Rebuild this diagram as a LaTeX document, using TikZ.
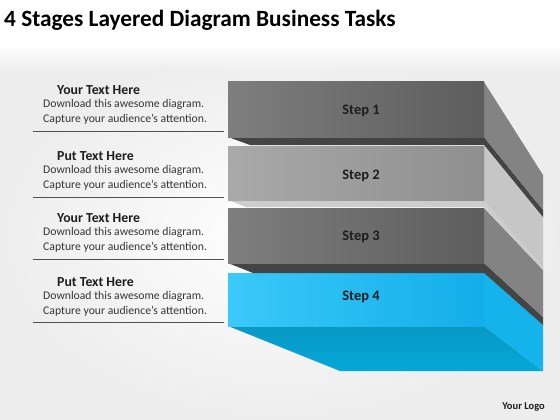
\documentclass[tikz,border=0pt]{standalone}
\usepackage{fontspec}
\setmainfont{Carlito}
\usetikzlibrary{fadings}
\definecolor{txt}{HTML}{1E1E1E}
\definecolor{rulec}{HTML}{505050}
\definecolor{gA}{HTML}{7E7E7E}
\definecolor{gB}{HTML}{5D5D5D}
\definecolor{gSide}{HTML}{838383}
\definecolor{gBand}{HTML}{444444}
\definecolor{lA}{HTML}{A9A9A9}
\definecolor{lB}{HTML}{8F8F8F}
\definecolor{lSide}{HTML}{C6C6C6}
\definecolor{lBand}{HTML}{CDCDCD}
\definecolor{bA}{HTML}{3BC9F8}
\definecolor{bB}{HTML}{12AEEA}
\definecolor{bSide}{HTML}{14B3EC}
\definecolor{bBotA}{HTML}{0898C4}
\definecolor{bBotB}{HTML}{04A8D8}
\tikzset{
  head/.style={anchor=west,font=\fontsize{13.8}{15}\selectfont\bfseries,text=txt,inner sep=0pt},
  body/.style={anchor=west,font=\fontsize{11.7}{13}\selectfont,text=txt!90,inner sep=0pt},
  steplabel/.style={font=\fontsize{14.5}{16}\selectfont\bfseries,text=txt,inner sep=0pt},
  sep/.style={draw=rulec,line width=0.9pt},
}
\begin{document}
\begin{tikzpicture}[x=1pt,y=-1pt]
\useasboundingbox (0,0) rectangle (560,420);
% background
\fill[white] (0,0) rectangle (560,420);
\shade[inner color=white,outer color=black!7] (0,50) rectangle (560,420);
\fill[white,path fading=south] (0,45) rectangle (560,72);
% title
\node[anchor=west,font=\fontsize{23.3}{26}\selectfont\bfseries,text=black,inner sep=0pt] (title) at (4,20) {4 Stages Layered Diagram Business Tasks};

% ---- step 4 (blue)
\shade[top color=bBotA,bottom color=bBotB] (228,326) -- (484,326) -- (543,371) -- (340,371) -- cycle;
\fill[bSide] (484,273) -- (543,325) -- (543,371) -- (484,326) -- cycle;
\shade[left color=bA,right color=bB] (228,273) rectangle (484,326);
% ---- step 3
\fill[gBand] (228,263) -- (484,263) -- (484,273) -- (253,273) -- cycle;
\fill[gBand] (484,263) -- (543,317) -- (543,325) -- (484,273) -- cycle;
\fill[gSide] (484,208) -- (543,270) -- (543,317) -- (484,263) -- cycle;
\shade[left color=gA,right color=gB] (228,208) rectangle (484,263);
% ---- step 2
\fill[lBand] (228,200) -- (484,200) -- (484,207) -- (246,207) -- cycle;
\fill[lBand] (484,200) -- (543,267) -- (543,270) -- (484,207) -- cycle;
\fill[lSide] (484,146) -- (543,217) -- (543,267) -- (484,200) -- cycle;
\shade[left color=lA,right color=lB] (228,146) rectangle (484,200);
% ---- step 1
\fill[gBand] (228,137) -- (484,137) -- (484,145) -- (250,145) -- cycle;
\fill[gBand] (484,137) -- (543,210) -- (543,217) -- (484,145) -- cycle;
\fill[gSide] (484,82) -- (543,175) -- (543,210) -- (484,137) -- cycle;
\shade[left color=gA,right color=gB] (228,82) rectangle (484,137);

% step labels
\node[steplabel] (s1) at (361,111) {Step 1};
\node[steplabel] (s2) at (361,176) {Step 2};
\node[steplabel] (s3) at (361,237) {Step 3};
\node[steplabel] (s4) at (361,297) {Step 4};

% left texts
\node[head] (h1) at (57,90) {Your Text Here};
\node[body] (a1) at (43,104) {Download this awesome diagram.};
\node[body] (b1) at (43,119) {Capture your audience’s attention.};
\draw[sep] (33,131) -- (224,131);

\node[head] (h2) at (57,156) {Put Text Here};
\node[body] (a2) at (43,170) {Download this awesome diagram.};
\node[body] (b2) at (43,185) {Capture your audience’s attention.};
\draw[sep] (33,197) -- (224,197);

\node[head] (h3) at (57,218) {Your Text Here};
\node[body] (a3) at (43,232) {Download this awesome diagram.};
\node[body] (b3) at (43,247) {Capture your audience’s attention.};
\draw[sep] (33,259) -- (224,259);

\node[head] (h4) at (57,282) {Put Text Here};
\node[body] (a4) at (43,296) {Download this awesome diagram.};
\node[body] (b4) at (43,311) {Capture your audience’s attention.};
\draw[sep] (33,322) -- (224,322);

% logo
\node[anchor=east,font=\fontsize{10.5}{12}\selectfont\bfseries,text=txt,inner sep=0pt] (logo) at (545,407) {Your Logo};
\end{tikzpicture}
\end{document}
